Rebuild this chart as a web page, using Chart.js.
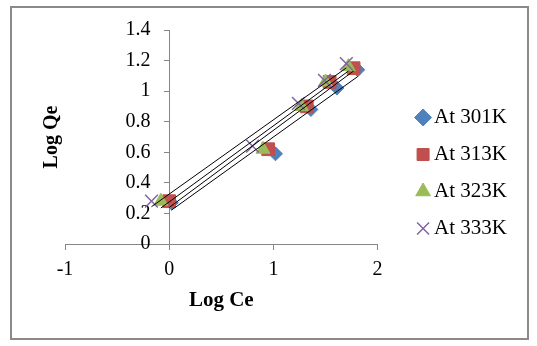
<!DOCTYPE html>
<html>
<head>
<meta charset="utf-8">
<script src="https://cdn.jsdelivr.net/npm/chart.js@4/dist/chart.umd.min.js"></script>
<style>
  html, body { margin: 0; padding: 0; background: #fff; }
  #wrap { position: relative; width: 537px; height: 346px; }
  #chart { display: block; }
  #frame { position: absolute; left: 10px; top: 6px; width: 519px; height: 334px;
           box-sizing: border-box; border: 2px solid #8a8a8a; pointer-events: none; }
</style>
</head>
<body>
<div id="wrap">
  <canvas id="chart" width="537" height="346"></canvas>
  <div id="frame"></div>
</div>
<script>
// Freundlich isotherm, log Qe vs log Ce at four temperatures
const seriesNames = ['At 301K', 'At 313K', 'At 323K', 'At 333K'];
const logCe301 = [0.02, 1.02, 1.36, 1.61, 1.81];
const logQe301 = [0.27, 0.59, 0.88, 1.02, 1.14];
const logCe313 = [0.00, 0.95, 1.32, 1.54, 1.77];
const logQe313 = [0.28, 0.62, 0.90, 1.06, 1.15];
const logCe323 = [-0.08, 0.90, 1.27, 1.50, 1.72];
const logQe323 = [0.28, 0.62, 0.90, 1.06, 1.16];
const logCe333 = [-0.17, 0.80, 1.24, 1.49, 1.70];
const logQe333 = [0.28, 0.64, 0.92, 1.07, 1.18];

const xTicks = [-1, 0, 1, 2];
const xTickLabels = ['-1', '0', '1', '2'];
const yTicks = [0, 0.2, 0.4, 0.6, 0.8, 1, 1.2, 1.4];
const yTickLabels = ['0', '0.2', '0.4', '0.6', '0.8', '1', '1.2', '1.4'];

const colors = ['#4f81bd', '#c0504d', '#9bbb59', '#8064a2'];
const styles = ['rectRot', 'rect', 'triangle', 'crossRot'];
const radii = [7, 9, 8, 9];
const axisGrey = '#868686';
const serif = 'Liberation Serif, Times New Roman, serif';

const xs = [logCe301, logCe313, logCe323, logCe333];
const ys = [logQe301, logQe313, logQe323, logQe333];

function toPoints(xv, yv) {
    return xv.map((x, i) => ({ x: x, y: yv[i] }));
}

// least squares line over the range of the series, like the Excel trendline
function trendline(xv, yv) {
    const n = xv.length;
    const mx = xv.reduce((a, b) => a + b, 0) / n;
    const my = yv.reduce((a, b) => a + b, 0) / n;
    let sxy = 0, sxx = 0;
    for (let i = 0; i < n; i++) {
        sxy += (xv[i] - mx) * (yv[i] - my);
        sxx += (xv[i] - mx) * (xv[i] - mx);
    }
    const slope = sxy / sxx;
    const icpt = my - slope * mx;
    const x0 = Math.min(...xv), x1 = Math.max(...xv);
    return [{ x: x0, y: icpt + slope * x0 }, { x: x1, y: icpt + slope * x1 }];
}

const datasets = [];
seriesNames.forEach((name, i) => {
    datasets.push({
        label: name,
        data: toPoints(xs[i], ys[i]),
        pointStyle: styles[i],
        pointRadius: radii[i],
        pointHoverRadius: radii[i],
        backgroundColor: colors[i],
        borderColor: colors[i],
        borderWidth: i === 3 ? 1.5 : 1,
        order: 4 - i
    });
});
seriesNames.forEach((name, i) => {
    datasets.push({
        label: 'trend ' + name,
        data: trendline(xs[i], ys[i]),
        showLine: true,
        pointRadius: 0,
        borderColor: '#000',
        borderWidth: 1,
        order: 0
    });
});

const setTicks = list => scale => { scale.ticks = list.map(v => ({ value: v })); };
const hidden = { ticks: { display: false }, grid: { display: false }, border: { display: false } };

new Chart(document.getElementById('chart'), {
    type: 'scatter',
    data: { datasets: datasets },
    options: {
        responsive: false,
        animation: false,
        layout: { padding: { left: 0, top: 0, bottom: 0, right: 20 } },
        scales: {
            x: {
                type: 'linear',
                position: { y: 0 },
                min: -1,
                max: 2,
                afterBuildTicks: setTicks(xTicks),
                ticks: { color: '#000', font: { family: serif, size: 20 }, padding: 9, maxRotation: 0,
                         autoSkip: false, callback: (v, i) => xTickLabels[i] },
                grid: { drawOnChartArea: false, tickLength: 5, color: axisGrey },
                border: { color: axisGrey }
            },
            y: {
                type: 'linear',
                position: { x: 0 },
                min: 0,
                max: 1.4,
                afterBuildTicks: setTicks(yTicks),
                ticks: { display: false },
                grid: { drawOnChartArea: false, tickLength: 5, color: axisGrey },
                border: { color: axisGrey }
            },
            yLabels: {
                ...hidden,
                type: 'linear',
                axis: 'y',
                position: { x: -0.18 },
                min: 0,
                max: 1.4,
                afterBuildTicks: setTicks(yTicks),
                ticks: { color: '#000', font: { family: serif, size: 20 }, autoSkip: false,
                         callback: (v, i) => yTickLabels[i] }
            },
            yTitle: {
                ...hidden,
                type: 'linear',
                axis: 'y',
                position: 'left',
                title: { display: true, text: 'Log Qe', color: '#000',
                         font: { family: serif, size: 20, weight: 'bold' }, padding: { top: 40, bottom: 40 } },
                afterFit: s => { s.width = 65; }
            },
            xTitle: {
                ...hidden,
                type: 'linear',
                axis: 'x',
                position: 'bottom',
                title: { display: true, text: 'Log Ce', color: '#000',
                         font: { family: serif, size: 21, weight: 'bold' }, padding: { top: 33, bottom: 33 } },
                afterFit: s => { s.height = 102; }
            },
            topGap: {
                ...hidden,
                type: 'linear',
                axis: 'x',
                position: 'top',
                afterFit: s => { s.height = 30; }
            },
            rightGap: {
                ...hidden,
                type: 'linear',
                axis: 'y',
                position: 'right',
                afterFit: s => { s.width = 29; }
            }
        },
        plugins: {
            legend: {
                position: 'right',
                align: 'center',
                maxWidth: 140,
                labels: {
                    usePointStyle: true,
                    boxWidth: 1,
                    boxHeight: 12,
                    padding: 16,
                    color: '#000',
                    font: { family: serif, size: 21 },
                    filter: item => item.datasetIndex < 4,
                    sort: (a, b) => a.datasetIndex - b.datasetIndex
                }
            },
            tooltip: { enabled: false }
        }
    }
});
</script>
</body>
</html>
